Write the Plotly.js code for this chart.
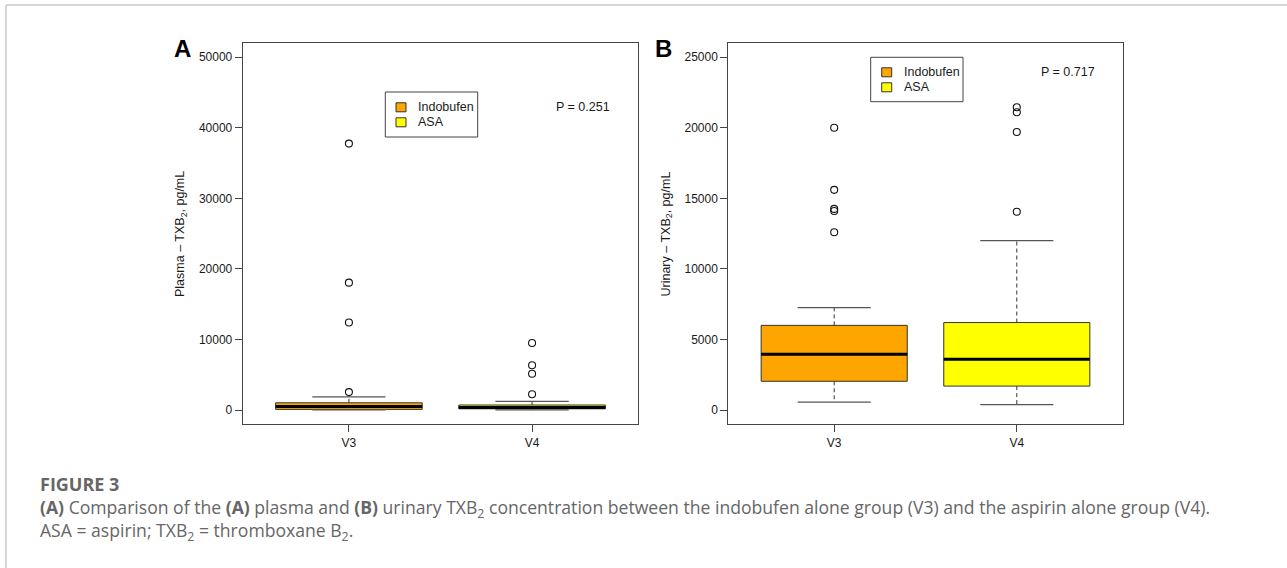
<!DOCTYPE html>
<html>
<head>
<meta charset="utf-8">
<script src="https://cdn.plot.ly/plotly-3.0.1.min.js"></script>
<style>
html,body{margin:0;padding:0;background:#fff;}
#chart{width:1287px;height:568px;}
</style>
</head>
<body>
<div id="chart"></div>
<script>
// ---------------- data ----------------
const groups = ['V3', 'V4'];
const groupPos = [1, 2];
const seriesNames = ['Indobufen', 'ASA'];
const seriesColors = ['#FFA500', '#FFFF00'];

// Panel A: plasma TXB2 (pg/mL)
const plasmaQ1 = [100, 180];
const plasmaMedian = [520, 380];
const plasmaQ3 = [1030, 720];
const plasmaLower = [20, 20];
const plasmaUpper = [1880, 1230];
const plasmaOutV3 = [2550, 12400, 18050, 37750];
const plasmaOutV4 = [2250, 5150, 6350, 9500];
const plasmaP = 'P = 0.251';

// Panel B: urinary TXB2 (pg/mL)
const urinaryQ1 = [2040, 1700];
const urinaryMedian = [3950, 3600];
const urinaryQ3 = [6000, 6200];
const urinaryLower = [570, 380];
const urinaryUpper = [7250, 12000];
const urinaryOutV3 = [12600, 14100, 14250, 15600, 20000];
const urinaryOutV4 = [14050, 19700, 21100, 21450];
const urinaryP = 'P = 0.717';

const plasmaTicks = [0, 10000, 20000, 30000, 40000, 50000];
const urinaryTicks = [0, 5000, 10000, 15000, 20000, 25000];

// ---------------- helpers ----------------
const W = 1287, H = 568;
const fx = x => x / W;
const fy = y => 1 - y / H;
const FONT = 'Liberation Sans, Arial, sans-serif';
const LINE = '#333';
const BOXW = 0.8, CAPW = 0.4;

function panelTraces(xa, ya, q1, med, q3, lo, hi, outs) {
  const tr = [];
  const xs = xa, ys = ya;
  groupPos.forEach((g, i) => {
    // dashed whiskers
    tr.push({type:'scatter', mode:'lines', xaxis:xs, yaxis:ys, hoverinfo:'skip', showlegend:false,
      x:[g, g, null, g, g], y:[q3[i], hi[i], null, q1[i], lo[i]],
      line:{color:LINE, width:1, dash:'4px,3px'}});
    // caps
    tr.push({type:'scatter', mode:'lines', xaxis:xs, yaxis:ys, hoverinfo:'skip', showlegend:false,
      x:[g - CAPW/2, g + CAPW/2, null, g - CAPW/2, g + CAPW/2], y:[hi[i], hi[i], null, lo[i], lo[i]],
      line:{color:'#555', width:1.3}});
    // box
    tr.push({type:'box', xaxis:xs, yaxis:ys, x:[g], q1:[q1[i]], median:[med[i]], q3:[q3[i]],
      lowerfence:[q1[i]], upperfence:[q3[i]], width:BOXW, whiskerwidth:0,
      fillcolor:seriesColors[i], line:{color:LINE, width:1}, boxpoints:false,
      hoverinfo:'skip', showlegend:false});
    // thick median
    tr.push({type:'scatter', mode:'lines', xaxis:xs, yaxis:ys, hoverinfo:'skip', showlegend:false,
      x:[g - BOXW/2, g + BOXW/2], y:[med[i], med[i]], line:{color:'#000', width:3}});
    // outliers
    tr.push({type:'scatter', mode:'markers', xaxis:xs, yaxis:ys, hoverinfo:'skip', showlegend:false,
      x:outs[i].map(() => g), y:outs[i],
      marker:{symbol:'circle-open', size:7, color:'#111', line:{width:1.1}}});
  });
  return tr;
}

const traces = [].concat(
  panelTraces('x', 'y', plasmaQ1, plasmaMedian, plasmaQ3, plasmaLower, plasmaUpper, [plasmaOutV3, plasmaOutV4]),
  panelTraces('x2', 'y2', urinaryQ1, urinaryMedian, urinaryQ3, urinaryLower, urinaryUpper, [urinaryOutV3, urinaryOutV4])
);

const yDom = [fy(424.2), fy(43)];
function xAxis(dom, anchor) {
  return {domain:dom, anchor:anchor, range:[0.42, 2.58], tickvals:groupPos, ticktext:groups,
    ticks:'outside', ticklen:7, tickcolor:'#444', showline:true, mirror:true, linecolor:'#444', linewidth:1,
    showgrid:false, zeroline:false, tickfont:{family:FONT, size:12, color:'#1a1a1a'}, fixedrange:true};
}
function yAxis(range, ticks, anchor) {
  return {domain:yDom, anchor:anchor, range:range, tickvals:ticks, ticktext:ticks.map(String),
    ticks:'outside', ticklen:7, tickcolor:'#444', showline:true, mirror:true, linecolor:'#444', linewidth:1,
    showgrid:false, zeroline:false, tickfont:{family:FONT, size:12, color:'#1a1a1a'}, fixedrange:true};
}

const shapes = [];
const annotations = [];

function legendBlock(x0, x1, y0, y1, swX, rowY, textX, pX, pText) {
  shapes.push({type:'rect', xref:'paper', yref:'paper', x0:fx(x0), x1:fx(x1), y0:fy(y1), y1:fy(y0),
    line:{color:'#444', width:1}, fillcolor:'#fff'});
  seriesNames.forEach((name, i) => {
    shapes.push({type:'rect', xref:'paper', yref:'paper', x0:fx(swX - 5), x1:fx(swX + 5),
      y0:fy(rowY[i] + 4.5), y1:fy(rowY[i] - 4.5), line:{color:'#333', width:1}, fillcolor:seriesColors[i]});
    annotations.push({xref:'paper', yref:'paper', x:fx(textX), y:fy(rowY[i]), xanchor:'left', yanchor:'middle',
      text:name, showarrow:false, font:{family:FONT, size:12.5, color:'#1a1a1a'}});
  });
  annotations.push({xref:'paper', yref:'paper', x:fx(pX), y:fy(rowY[0]), xanchor:'left', yanchor:'middle',
    text:pText, showarrow:false, font:{family:FONT, size:12.5, color:'#1a1a1a'}});
}
legendBlock(385.3, 477.7, 92, 137, 401, [107.3, 122.3], 416, 553.5, plasmaP);
legendBlock(870.7, 963, 57.3, 101.7, 886.7, [72.3, 87.3], 901.5, 1039, urinaryP);

// axis titles
annotations.push({xref:'paper', yref:'paper', x:fx(181), y:fy(234), textangle:-90, xanchor:'center', yanchor:'middle',
  text:'Plasma – TXB<sub>2</sub>, pg/mL', showarrow:false, font:{family:FONT, size:12.5, color:'#1a1a1a'}});
annotations.push({xref:'paper', yref:'paper', x:fx(666.5), y:fy(234), textangle:-90, xanchor:'center', yanchor:'middle',
  text:'Urinary – TXB<sub>2</sub>, pg/mL', showarrow:false, font:{family:FONT, size:12.5, color:'#1a1a1a'}});

// panel letters
annotations.push({xref:'paper', yref:'paper', x:fx(182), y:fy(48.5), xanchor:'center', yanchor:'middle',
  text:'<b>A</b>', showarrow:false, font:{family:FONT, size:24, color:'#000'}});
annotations.push({xref:'paper', yref:'paper', x:fx(663), y:fy(48), xanchor:'center', yanchor:'middle',
  text:'<b>B</b>', showarrow:false, font:{family:FONT, size:24, color:'#000'}});

// caption
const CAP = 'Open Sans, Noto Sans, sans-serif';
annotations.push({xref:'paper', yref:'paper', x:fx(38), y:fy(484), xanchor:'left', yanchor:'middle',
  text:'<b>FIGURE 3</b>', showarrow:false, font:{family:CAP, size:18, color:'#666'}});
annotations.push({xref:'paper', yref:'paper', x:fx(38), y:fy(508), xanchor:'left', yanchor:'middle',
  text:'<b>(A)</b> Comparison of the <b>(A)</b> plasma and <b>(B)</b> urinary TXB<sub>2</sub> concentration between the indobufen alone group (V3) and the aspirin alone group (V4).',
  showarrow:false, font:{family:CAP, size:17.6, color:'#666'}});
annotations.push({xref:'paper', yref:'paper', x:fx(38), y:fy(531), xanchor:'left', yanchor:'middle',
  text:'ASA = aspirin; TXB<sub>2</sub> = thromboxane B<sub>2</sub>.',
  showarrow:false, font:{family:CAP, size:17.6, color:'#666'}});

// page border lines
shapes.push({type:'line', xref:'paper', yref:'paper', x0:fx(6), x1:1, y0:fy(5), y1:fy(5), line:{color:'#c8c8c8', width:1.5}});
shapes.push({type:'line', xref:'paper', yref:'paper', x0:fx(6), x1:fx(6), y0:fy(5), y1:0, line:{color:'#c8c8c8', width:1.5}});

const layout = {
  width:W, height:H, margin:{l:0, r:0, t:0, b:0}, paper_bgcolor:'#fff', plot_bgcolor:'#fff',
  showlegend:false,
  xaxis: xAxis([fx(242.7), fx(638.3)], 'y'),
  yaxis: yAxis([-2000, 52000], plasmaTicks, 'x'),
  xaxis2: xAxis([fx(728.3), fx(1122.7)], 'y2'),
  yaxis2: yAxis([-1000, 26000], urinaryTicks, 'x2'),
  shapes:shapes, annotations:annotations,
  font:{family:FONT}
};

Plotly.newPlot('chart', traces, layout, {staticPlot:true, displayModeBar:false});
</script>
</body>
</html>
